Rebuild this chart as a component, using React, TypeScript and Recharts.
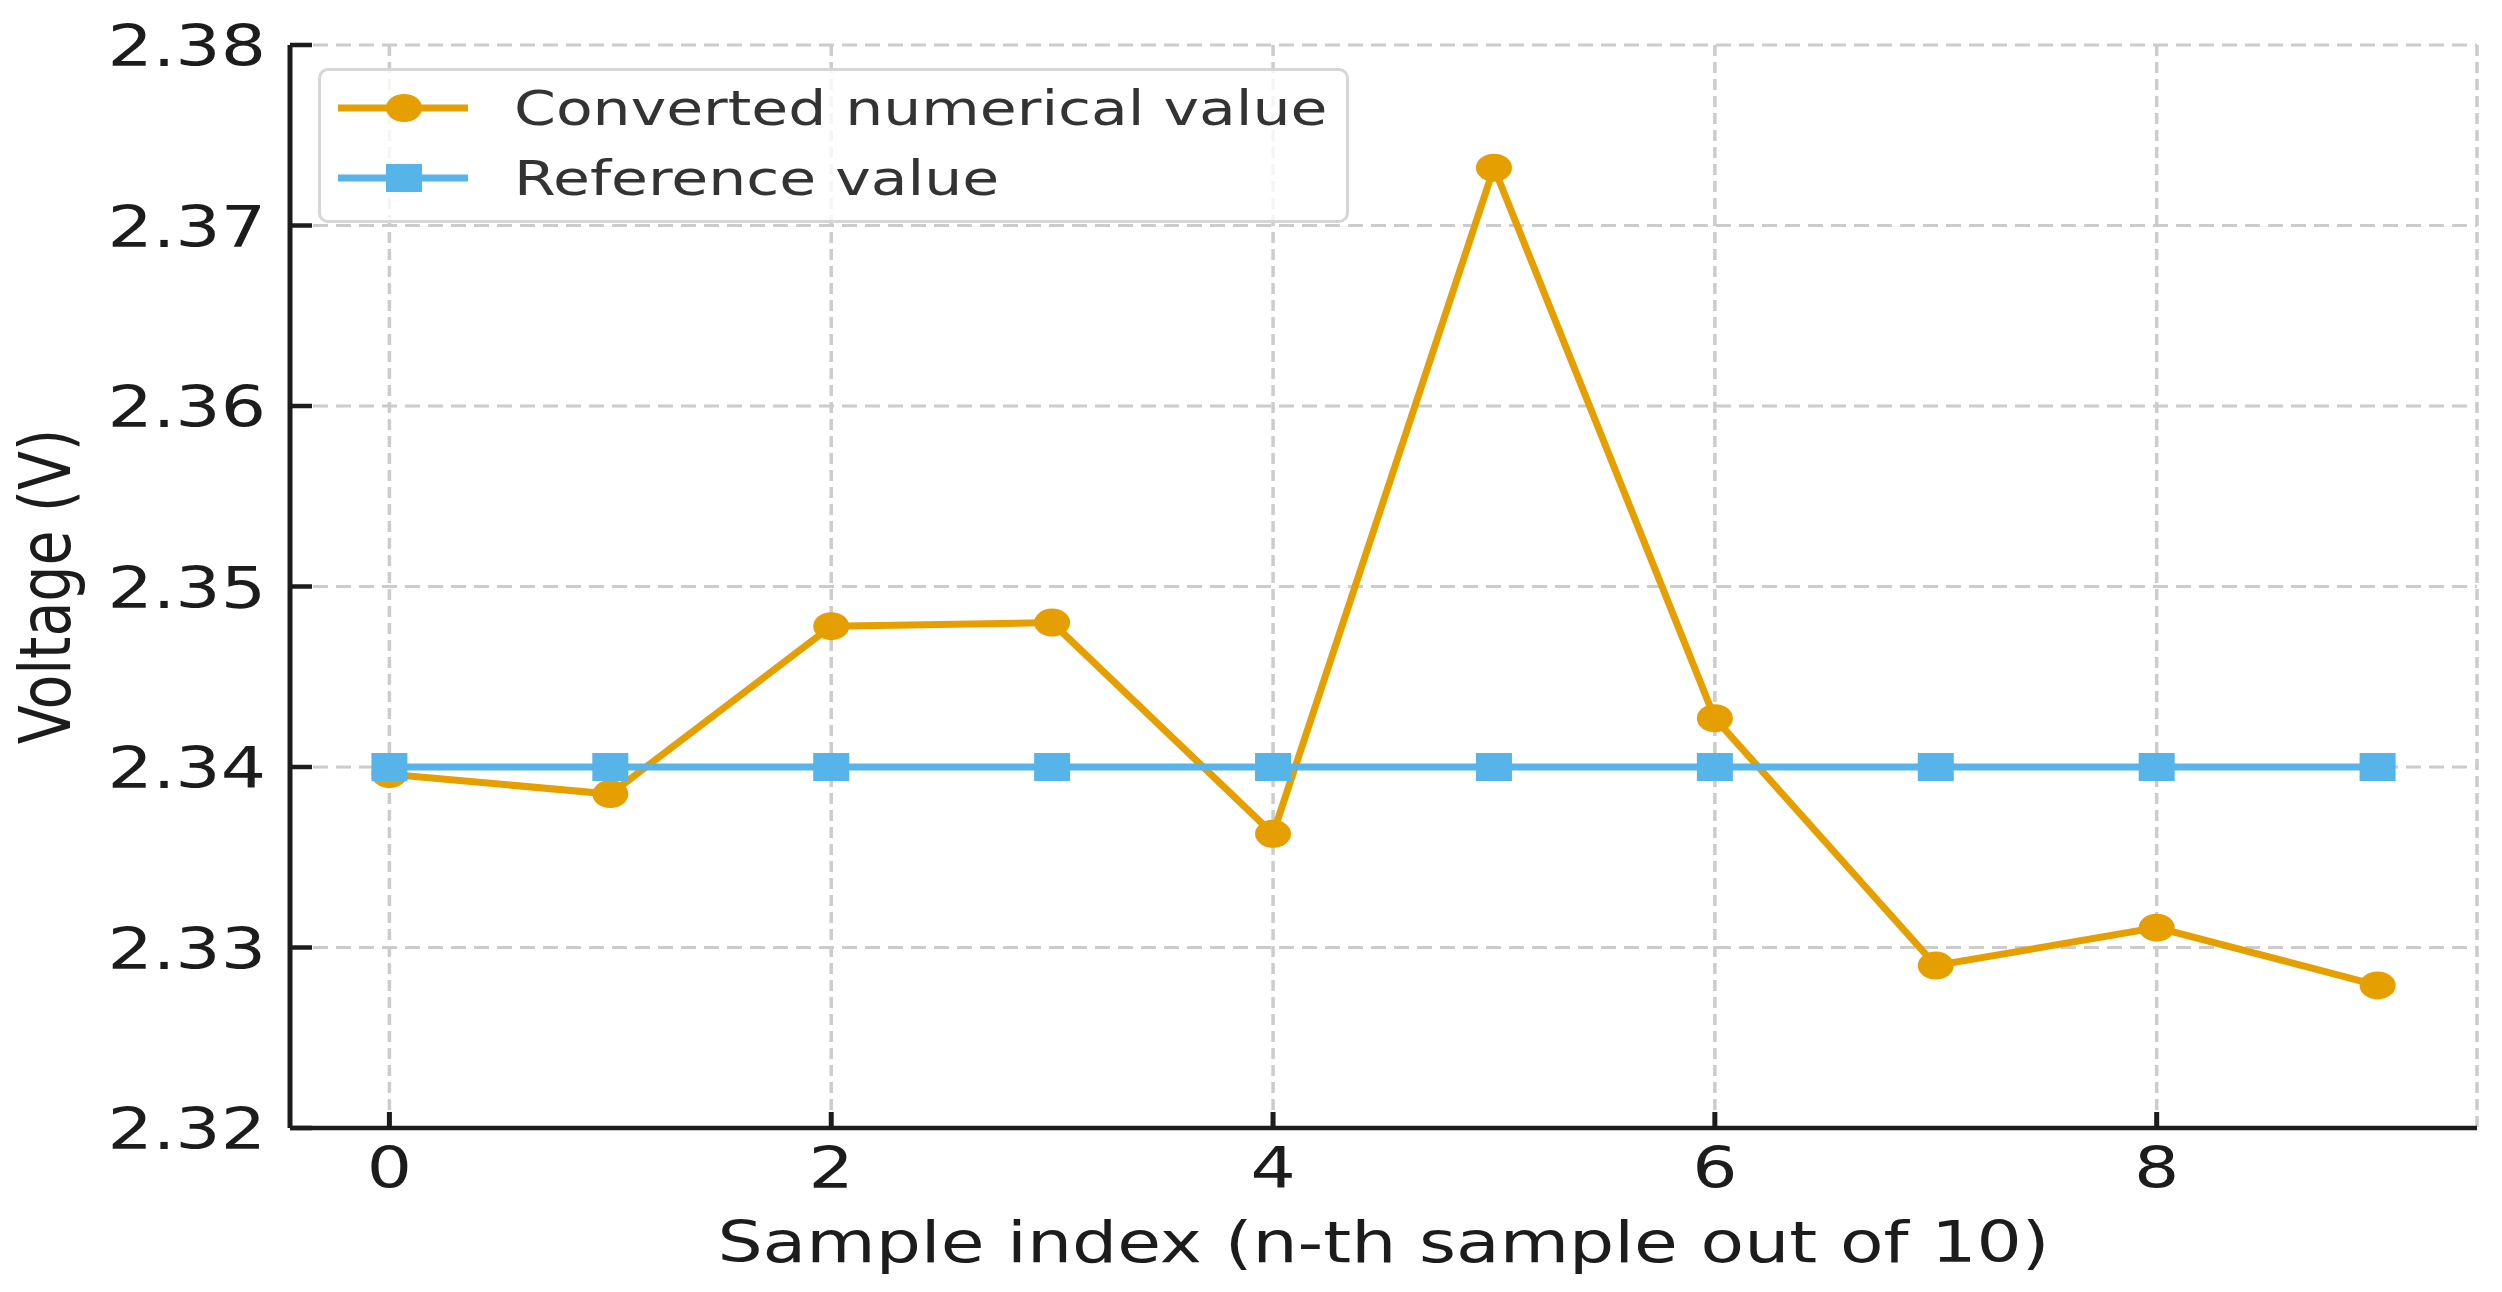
import { CartesianGrid, Label, Legend, Line, LineChart, XAxis, YAxis } from "recharts";

const sampleIndex = [0, 1, 2, 3, 4, 5, 6, 7, 8, 9];
const convertedValues = [2.3396, 2.3385, 2.3478, 2.348, 2.3363, 2.3732, 2.3427, 2.329, 2.3311, 2.3279];
const referenceValues = [2.34, 2.34, 2.34, 2.34, 2.34, 2.34, 2.34, 2.34, 2.34, 2.34];
const yTicks = [2.32, 2.33, 2.34, 2.35, 2.36, 2.37, 2.38];
const xTicks = [0, 2, 4, 6, 8];

const data = sampleIndex.map((idx, i) => ({
  idx,
  converted: convertedValues[i],
  reference: referenceValues[i],
}));

const ORANGE = "#E69F00";
const BLUE = "#56B4E9";
const INK = "#1c1c1c";
const FONT = "DejaVu Sans";
const STRETCH = 1.25;

const YTick = (props: any) => {
  const { y, payload } = props;
  const axisX = 290;
  return (
    <g>
      <line x1={axisX} x2={axisX + 22} y1={payload.coordinate} y2={payload.coordinate} stroke={INK} strokeWidth={4.5} />
      <text
        transform={`translate(266, ${y + 21}) scale(${STRETCH}, 1)`}
        textAnchor="end"
        fontFamily={FONT}
        fontSize={57}
        fill={INK}
      >
        {Number(payload.value).toFixed(2)}
      </text>
    </g>
  );
};

const XTick = (props: any) => {
  const { x, payload } = props;
  const axisY = 1128;
  return (
    <g>
      <line x1={x} x2={x} y1={axisY} y2={axisY - 16} stroke={INK} strokeWidth={5} />
      <text
        transform={`translate(${x}, ${axisY + 60}) scale(${STRETCH}, 1)`}
        textAnchor="middle"
        fontFamily={FONT}
        fontSize={57}
        fill={INK}
      >
        {payload.value}
      </text>
    </g>
  );
};

const XLabel = (props: any) => {
  const vb = props.viewBox;
  return (
    <text
      transform={`translate(${vb.x + vb.width / 2}, ${vb.y + 134}) scale(${STRETCH}, 1)`}
      textAnchor="middle"
      fontFamily={FONT}
      fontSize={57}
      fill={INK}
    >
      Sample index (n-th sample out of 10)
    </text>
  );
};

const YLabel = (props: any) => {
  const vb = props.viewBox;
  return (
    <text
      transform={`translate(70, ${vb.y + vb.height / 2}) scale(${STRETCH}, 1) rotate(-90)`}
      textAnchor="middle"
      fontFamily={FONT}
      fontSize={57}
      fill={INK}
    >
      Voltage (V)
    </text>
  );
};

const CircleDot = (props: any) => {
  const { cx, cy, index } = props;
  return <ellipse key={`c-${index}`} cx={cx} cy={cy} rx={18} ry={14} fill={ORANGE} />;
};

const SquareDot = (props: any) => {
  const { cx, cy, index } = props;
  return <rect key={`s-${index}`} x={cx - 18} y={cy - 14} width={36} height={28} fill={BLUE} />;
};

const legendItems = [
  { label: "Converted numerical value", color: ORANGE, marker: "circle" },
  { label: "Reference value", color: BLUE, marker: "square" },
];

const LegendBox = () => (
  <div
    style={{
      position: "relative",
      boxSizing: "border-box",
      width: 1031,
      height: 155,
      border: "3px solid #d6d6d6",
      borderRadius: 10,
      background: "rgba(255,255,255,0.8)",
    }}
  >
    {legendItems.map((item, i) => (
      <div key={item.label} style={{ position: "absolute", left: 0, top: 2 + i * 70, height: 70, width: "100%" }}>
        <svg width={130} height={36} style={{ position: "absolute", left: 17, top: 17 }}>
          <line x1={0} x2={130} y1={18} y2={18} stroke={item.color} strokeWidth={7} />
          {item.marker === "circle" ? (
            <ellipse cx={66} cy={18} rx={18} ry={14} fill={item.color} />
          ) : (
            <rect x={48} y={4} width={36} height={28} fill={item.color} />
          )}
        </svg>
        <span
          style={{
            position: "absolute",
            left: 193,
            top: 0,
            lineHeight: "70px",
            fontFamily: FONT,
            fontSize: 48,
            color: "#333333",
            whiteSpace: "nowrap",
            transform: `scaleX(${STRETCH})`,
            transformOrigin: "left center",
          }}
        >
          {item.label}
        </span>
      </div>
    ))}
  </div>
);

export default function App() {
  return (
    <div style={{ position: "absolute", top: 0, left: 0, background: "#fff" }}>
      <LineChart width={2502} height={1292} data={data} margin={{ top: 45, right: 25, bottom: 0, left: 0 }}>
        <CartesianGrid horizontal vertical={false} stroke="#cccccc" strokeWidth={3} strokeDasharray="15 8" />
        <CartesianGrid horizontal={false} vertical stroke="#cccccc" strokeWidth={3.5} strokeDasharray="11 6" />
        <XAxis
          dataKey="idx"
          type="number"
          domain={[-0.45, 9.45]}
          ticks={xTicks}
          interval={0}
          height={164}
          tickSize={0}
          tickMargin={0}
          tickLine={false}
          axisLine={{ stroke: INK, strokeWidth: 4.5 }}
          tick={(p: any) => <XTick {...p} />}
        >
          <Label content={XLabel} />
        </XAxis>
        <YAxis
          type="number"
          domain={[2.32, 2.38]}
          ticks={yTicks}
          interval={0}
          width={290}
          tickSize={0}
          tickMargin={0}
          tickLine={false}
          axisLine={{ stroke: INK, strokeWidth: 5 }}
          tick={(p: any) => <YTick {...p} />}
        >
          <Label content={YLabel} />
        </YAxis>
        <Legend
          layout="vertical"
          align="center"
          verticalAlign="middle"
          content={() => <LegendBox />}
          wrapperStyle={{ top: 68, left: 318, width: 1031, height: 155 }}
        />
        <Line
          dataKey="converted"
          stroke={ORANGE}
          strokeWidth={7}
          dot={(p: any) => <CircleDot {...p} />}
          activeDot={false}
          isAnimationActive={false}
        />
        <Line
          dataKey="reference"
          stroke={BLUE}
          strokeWidth={7}
          dot={(p: any) => <SquareDot {...p} />}
          activeDot={false}
          isAnimationActive={false}
        />
      </LineChart>
    </div>
  );
}
